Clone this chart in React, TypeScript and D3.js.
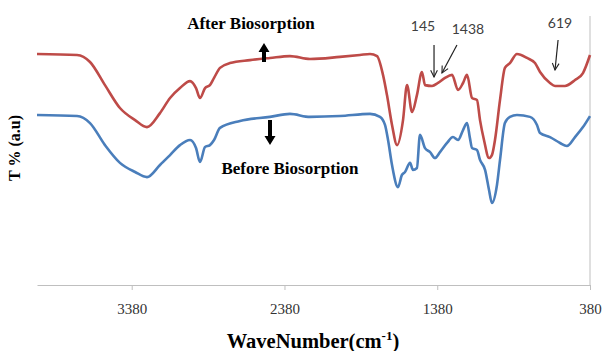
import { useEffect, useRef } from "react";
import * as d3 from "d3";

// [wavenumber (cm-1), T (a.u.)]
const afterBiosorption: [number, number][] = [
  [4000, 85.9], [3738, 85.5], [3653, 82.9], [3555, 74.3], [3457, 65.8],
  [3358, 61.3], [3280, 58.7], [3195, 63.9], [3129, 69.5], [3064, 73.2],
  [2998, 75.8], [2959, 73.2], [2933, 69.5], [2900, 73.2], [2868, 74.3],
  [2841, 77.0], [2802, 80.7], [2737, 82.5], [2606, 83.6], [2475, 84.4],
  [2344, 85.1], [2213, 84.0], [2017, 84.8], [1886, 85.5], [1820, 85.9],
  [1774, 85.1], [1735, 78.1], [1709, 70.6], [1676, 59.5], [1643, 52.0],
  [1604, 61.3], [1578, 74.3], [1545, 64.3], [1513, 70.6], [1480, 79.2],
  [1460, 74.3], [1414, 74.0], [1375, 75.1], [1329, 77.0], [1283, 78.1],
  [1244, 72.5], [1211, 75.1], [1185, 78.1], [1152, 69.5], [1120, 68.8],
  [1100, 61.3], [1074, 53.9], [1041, 47.2], [1022, 48.3], [1002, 53.9],
  [969, 68.8], [937, 80.7], [904, 82.5], [858, 85.9], [792, 84.4],
  [740, 82.5], [707, 79.2], [642, 75.1], [609, 74.0], [544, 74.0],
  [478, 76.2], [426, 78.8], [380, 85.5],
];

const beforeBiosorption: [number, number][] = [
  [4000, 63.2], [3738, 62.8], [3653, 60.2], [3555, 52.0], [3457, 45.4],
  [3358, 42.0], [3280, 40.1], [3195, 44.6], [3129, 48.3], [3064, 52.0],
  [2998, 53.9], [2959, 50.9], [2933, 45.7], [2900, 51.3], [2868, 52.0],
  [2841, 53.9], [2802, 58.4], [2671, 61.0], [2475, 62.5], [2344, 63.6],
  [2213, 62.5], [2017, 62.8], [1820, 63.6], [1755, 62.5], [1722, 59.5],
  [1702, 53.9], [1676, 44.6], [1637, 36.4], [1611, 40.9], [1591, 42.0],
  [1558, 45.4], [1539, 42.8], [1513, 43.5], [1493, 55.8], [1460, 50.9],
  [1427, 49.4], [1395, 47.2], [1362, 49.4], [1316, 52.8], [1277, 55.0],
  [1244, 53.9], [1211, 57.6], [1185, 60.2], [1166, 54.6], [1152, 50.9],
  [1120, 50.2], [1100, 46.5], [1067, 42.8], [1041, 35.3], [1022, 30.5],
  [989, 37.2], [969, 46.5], [937, 60.2], [904, 62.5], [858, 63.2],
  [773, 62.5], [727, 59.5], [707, 56.5], [642, 55.0], [576, 52.8],
  [531, 51.7], [478, 55.0], [426, 58.7], [380, 62.8],
];

const xTicks = [3380, 2380, 1380, 380];

// peak labels: text, label wavenumber, arrow start / end wavenumbers
const peakLabels: [string, number, number, number][] = [
  ["145", 1473, 1401, 1401],
  ["1438", 1179, 1251, 1349],
  ["619", 576, 589, 609],
];

export default function App() {
  const ref = useRef<SVGSVGElement | null>(null);

  useEffect(() => {
    const width = 602;
    const height = 351;
    const margin = { top: 16, right: 12, bottom: 66, left: 37 };

    const svg = d3.select(ref.current);
    svg.selectAll("*").remove();

    const x = d3
      .scaleLinear()
      .domain([4000, 380])
      .range([margin.left, width - margin.right]);

    const y = d3
      .scaleLinear()
      .domain([0, 100])
      .range([height - margin.bottom, margin.top]);

    // right value axis line
    svg
      .append("line")
      .attr("x1", x(380))
      .attr("x2", x(380))
      .attr("y1", y(100))
      .attr("y2", y(0))
      .attr("stroke", "#bfbfbf")
      .attr("stroke-width", 1);

    const xAxis = svg
      .append("g")
      .attr("transform", `translate(0,${y(0)})`)
      .call(d3.axisBottom(x).tickValues(xTicks).tickSize(5).tickPadding(13).tickSizeOuter(0).tickFormat(d3.format("d")));
    xAxis.select(".domain").attr("stroke", "#bfbfbf");
    xAxis.selectAll(".tick line").attr("stroke", "#bfbfbf");
    xAxis
      .selectAll(".tick text")
      .attr("fill", "#333")
      .style("font-family", "'Liberation Serif', serif")
      .style("font-size", "15px");

    const line = d3
      .line<[number, number]>()
      .x((d) => x(d[0]))
      .y((d) => y(d[1]))
      .curve(d3.curveMonotoneX);

    svg
      .append("path")
      .datum(beforeBiosorption)
      .attr("fill", "none")
      .attr("stroke", "#4a7ebb")
      .attr("stroke-width", 2.6)
      .attr("stroke-linejoin", "round")
      .attr("d", line);

    svg
      .append("path")
      .datum(afterBiosorption)
      .attr("fill", "none")
      .attr("stroke", "#be4b48")
      .attr("stroke-width", 2.6)
      .attr("stroke-linejoin", "round")
      .attr("d", line);

    // series captions with block arrows
    const bold = "'Liberation Serif', serif";
    svg
      .append("text")
      .attr("x", 251)
      .attr("y", 29)
      .attr("text-anchor", "middle")
      .style("font-family", bold)
      .style("font-weight", "bold")
      .style("font-size", "17px")
      .text("After Biosorption");

    svg
      .append("text")
      .attr("x", 290)
      .attr("y", 174)
      .attr("text-anchor", "middle")
      .style("font-family", bold)
      .style("font-weight", "bold")
      .style("font-size", "17px")
      .text("Before Biosorption");

    const blockArrow = (cx: number, tip: number, tail: number) => {
      const dir = tail > tip ? 1 : -1;
      const head = tip + dir * 9;
      const p = d3.path();
      p.moveTo(cx, tip);
      p.lineTo(cx + 5.5, head);
      p.lineTo(cx + 2, head);
      p.lineTo(cx + 2, tail);
      p.lineTo(cx - 2, tail);
      p.lineTo(cx - 2, head);
      p.lineTo(cx - 5.5, head);
      p.closePath();
      svg.append("path").attr("d", p.toString()).attr("fill", "#000");
    };
    blockArrow(264, 43, 62);
    blockArrow(270, 145, 120);

    // peak labels
    const defs = svg.append("defs");
    defs
      .append("marker")
      .attr("id", "thin-arrow")
      .attr("viewBox", "0 0 10 10")
      .attr("refX", 9)
      .attr("refY", 5)
      .attr("markerWidth", 7)
      .attr("markerHeight", 7)
      .attr("orient", "auto")
      .append("path")
      .attr("d", "M1,1 L9,5 L1,9")
      .attr("fill", "none")
      .attr("stroke", "#222")
      .attr("stroke-width", 1.3);

    const labelY = [31, 34, 28];
    const arrowY = [[45, 77], [45, 73], [40, 70]];
    peakLabels.forEach(([label, wl, wa, wb], i) => {
      svg
        .append("text")
        .attr("x", x(wl))
        .attr("y", labelY[i])
        .attr("text-anchor", "middle")
        .attr("fill", "#404040")
        .style("font-family", "Lato, sans-serif")
        .style("font-size", "14px")
        .text(label);
      svg
        .append("line")
        .attr("x1", x(wa))
        .attr("y1", arrowY[i][0])
        .attr("x2", x(wb))
        .attr("y2", arrowY[i][1])
        .attr("stroke", "#222")
        .attr("stroke-width", 1.2)
        .attr("marker-end", "url(#thin-arrow)");
    });

    // axis titles
    const xTitle = svg
      .append("text")
      .attr("x", 313)
      .attr("y", 348)
      .attr("text-anchor", "middle")
      .style("font-family", bold)
      .style("font-weight", "bold")
      .style("font-size", "20.5px");
    xTitle.append("tspan").text("WaveNumber(cm");
    xTitle.append("tspan").attr("dy", -8).style("font-size", "13px").text("-1");
    xTitle.append("tspan").attr("dy", 8).text(")");

    svg
      .append("text")
      .attr("transform", `translate(20,${148}) rotate(-90)`)
      .attr("text-anchor", "middle")
      .style("font-family", bold)
      .style("font-weight", "bold")
      .style("font-size", "16px")
      .text("T % (a.u)");
  }, []);

  return (
    <svg
      ref={ref}
      width={602}
      height={351}
      style={{ position: "absolute", left: 0, top: 0, background: "#fff" }}
    />
  );
}
